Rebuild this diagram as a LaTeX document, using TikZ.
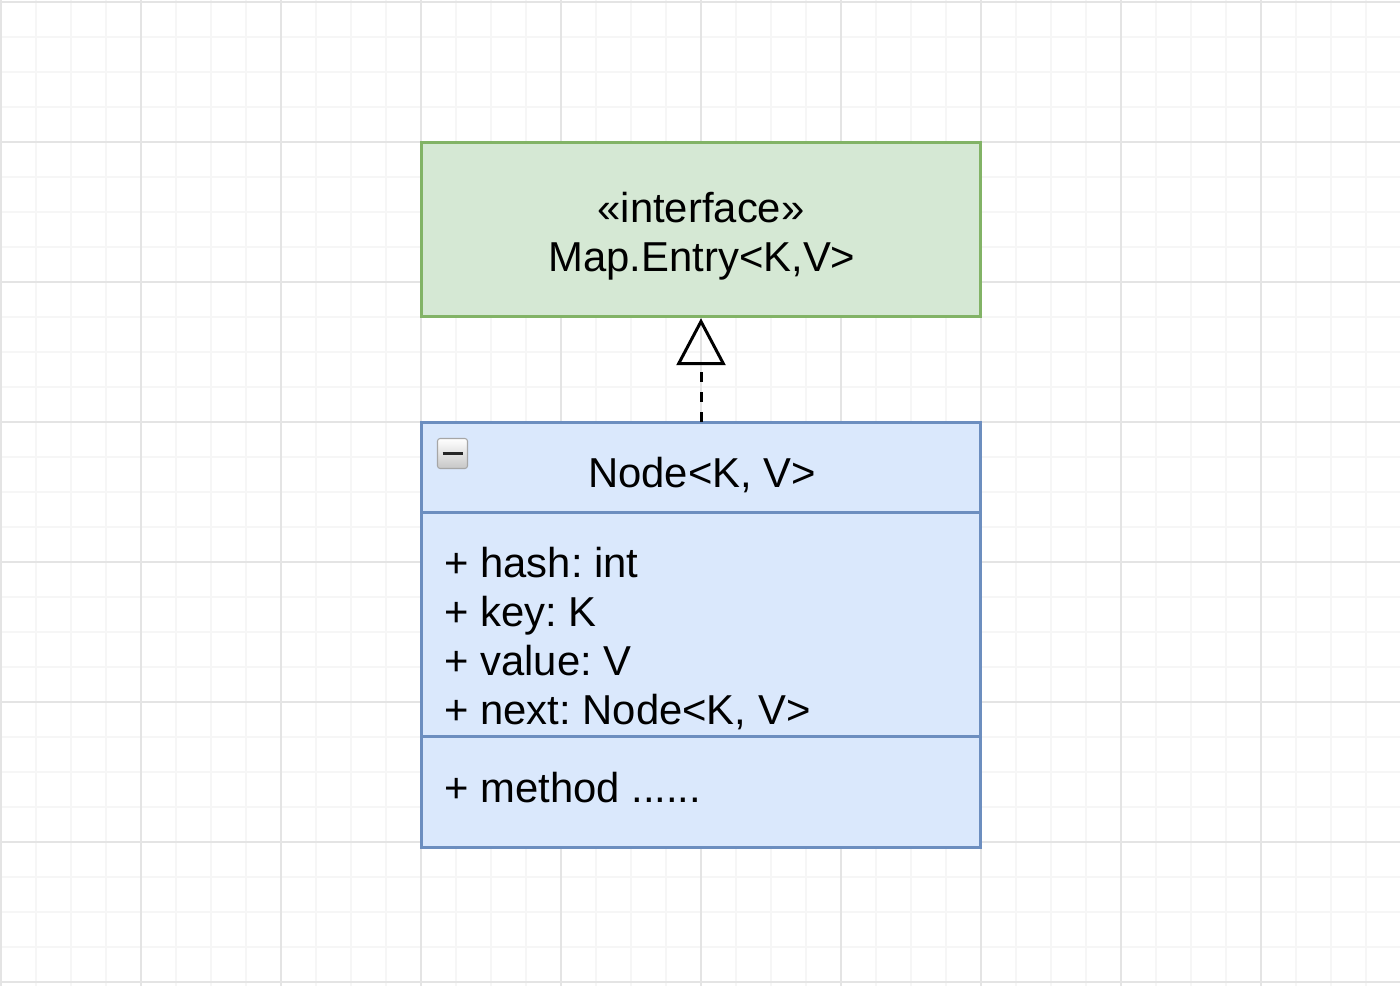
\documentclass[tikz,border=0pt]{standalone}
\usepackage{fontspec}
\setmainfont{Liberation Sans}
\frenchspacing
\usetikzlibrary{arrows.meta,positioning}

\definecolor{gridmajor}{HTML}{E4E4E4}
\definecolor{gridminor}{HTML}{F6F6F6}
\definecolor{ifacefill}{HTML}{D5E8D4}
\definecolor{ifaceline}{HTML}{82B366}
\definecolor{classfill}{HTML}{DAE8FC}
\definecolor{classline}{HTML}{6C8EBF}

\tikzset{
  umltext/.style={inner sep=0pt,font=\fontsize{23.8}{27.8}\selectfont},
  ifacebox/.style={draw=ifaceline,fill=ifacefill,line width=1.7pt,inner sep=0pt,
    outer sep=0pt,minimum width=11.18cm,minimum height=3.48cm},
  classpart/.style={draw=classline,fill=classfill,line width=1.7pt,inner sep=0pt,
    outer sep=0pt,minimum width=11.18cm},
  collapsebox/.style={draw=black!35,rounded corners=1.5pt,top color=white,
    bottom color=black!22,line width=0.6pt,inner sep=0pt,minimum size=0.6cm},
  realize/.style={line width=1.7pt,dash pattern=on 5.8pt off 5.6pt,
    -{Triangle[open,length=0.94cm,width=0.98cm]},shorten >=1pt}
}

\begin{document}
\begin{tikzpicture}[x=0.02cm,y=-0.02cm]
	\useasboundingbox[fill=white] (0,0) rectangle (1400,986);

	% draw background grid
	\foreach \x in {1,36,...,1400}
	{
		\draw[gridminor,line width=0.6pt] (\x,0) -- (\x,986);
	}
	\foreach \y in {2,37,...,986}
	{
		\draw[gridminor,line width=0.6pt] (0,\y) -- (1400,\y);
	}
	\foreach \x in {1,141,...,1400}
	{
		\draw[gridmajor,line width=0.6pt] (\x,0) -- (\x,986);
	}
	\foreach \y in {2,142,...,986}
	{
		\draw[gridmajor,line width=0.6pt] (0,\y) -- (1400,\y);
	}

	% draw interface box
	\node[ifacebox] (entry) at (701,229.5) {};
	\node[umltext,anchor=base] (stereo) at (701,223) {«interface»};
	\node[umltext,anchor=base] (entryname) at (702,272) {Map.Entry<K,V>};

	% draw class compartments
	\node[classpart,minimum height=1.81cm] (head) at (701,467.25) {};
	\node[classpart,minimum height=4.48cm,below=0pt of head] (attrs) {};
	\node[classpart,minimum height=2.23cm,below=0pt of attrs] (methods) {};

	% draw collapse icon
	\node[collapsebox] (collapse) at (452.5,453.5) {};
	\draw[black!85,line width=1.7pt] ([xshift=-0.2cm]collapse.center) -- ([xshift=0.2cm]collapse.center);

	% class name and members
	\node[umltext,anchor=base] (headname) at (702,487) {Node<K, V>};
	\foreach \member [count=\i from 0] in {{+ hash: int},{+ key: K},{+ value: V},{+ next: Node<K, V>}}
	{
		\node[umltext,anchor=base west] (attr\i) at (444,577+49*\i) {\member};
	}
	\node[umltext,anchor=base west] (method0) at (444,802) {+ method ......};

	% draw realization arrow from class to interface
	\draw[realize] (head.north) -- (entry.south);
\end{tikzpicture}
\end{document}
